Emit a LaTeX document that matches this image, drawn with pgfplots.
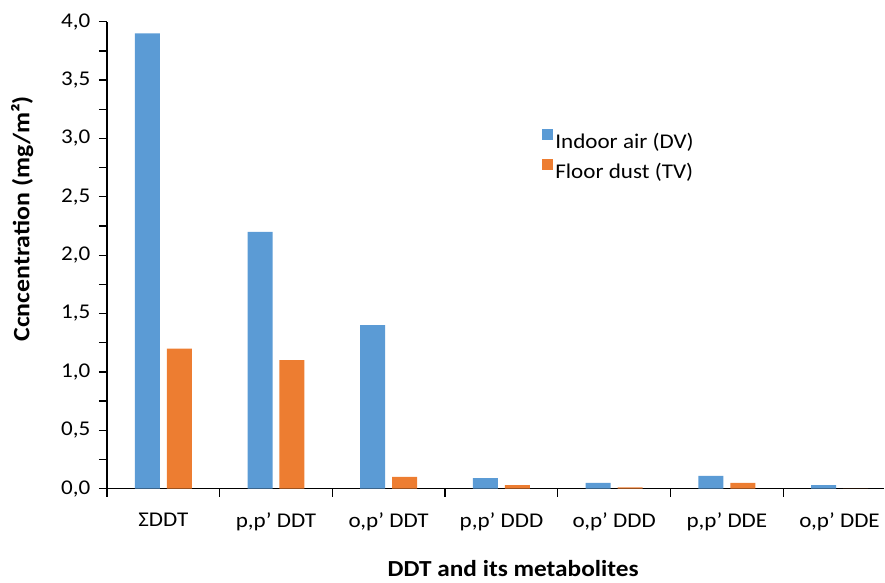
\documentclass[border=0pt]{standalone}
\usepackage{pgfplots}
\pgfplotsset{compat=1.18}
\usepackage{fontspec}
\setmainfont{Carlito}[FakeStretch=1.1]

\definecolor{airblue}{HTML}{5B9BD5}
\definecolor{dustorange}{HTML}{ED7D31}

\begin{document}
\begin{tikzpicture}
\begin{axis}[
  scale only axis,
  width=778pt, height=467.3pt,
  xmin=-0.5, xmax=6.397,
  ymin=0, ymax=4,
  axis x line*=bottom, axis y line*=left,
  axis line style={-, line width=1.3pt, black},
  ybar, bar width=25pt,
  xtick={0,...,6},
  xticklabels={ΣDDT, {p,p’ DDT}, {o,p’ DDT}, {p,p’ DDD}, {o,p’ DDD}, {p,p’ DDE}, {o,p’ DDE}},
  major x tick style={draw=none},
  minor xtick={-0.5,0.5,1.5,2.5,3.5,4.5,5.5},
  ytick={0,0.5,...,4},
  minor ytick={0.25,0.75,...,3.75},
  tick align=outside,
  major tick length=8pt, minor tick length=8pt,
  tick style={line width=1.3pt, black},
  tick label style={font=\fontsize{21}{25}\selectfont},
  xticklabel style={yshift=-13pt},
  yticklabel style={xshift=-5pt, /pgf/number format/.cd, use comma, fixed, fixed zerofill, precision=1, assume math mode=true},
  ylabel={Ccncentration (mg/m²)},
  ylabel style={font=\bfseries\fontsize{23.5}{27}\selectfont, at={(axis description cs:-0.109,0.578)}, anchor=center},
  xlabel={DDT and its metabolites},
  xlabel style={font=\bfseries\fontsize{23}{27}\selectfont, at={(axis description cs:0.5225,0)}, yshift=-80pt, anchor=center},
  legend style={at={(axis description cs:0.556,0.775)}, anchor=north west, draw=none, fill=none,
    font=\fontsize{21}{25}\selectfont, row sep=7pt},
  legend cell align=left,
  legend image code/.code={\fill[#1] (0pt,1.5pt) rectangle (11pt,12.5pt);},
  clip=false,
]
% Indoor air (DV)
\addplot[fill=airblue, draw=none, bar shift=-16pt] coordinates {
  (0,3.9) (1,2.2) (2,1.4) (3,0.09) (4,0.05) (5,0.11) (6,0.03)};
% Floor dust (TV)
\addplot[fill=dustorange, draw=none, bar shift=16pt] coordinates {
  (0,1.2) (1,1.1) (2,0.1) (3,0.03) (4,0.01) (5,0.05) (6,0.0)};
\legend{Indoor air (DV), Floor dust (TV)}
\end{axis}
\useasboundingbox (-107pt,-94pt) rectangle (778pt,489pt);
\end{tikzpicture}
\end{document}
